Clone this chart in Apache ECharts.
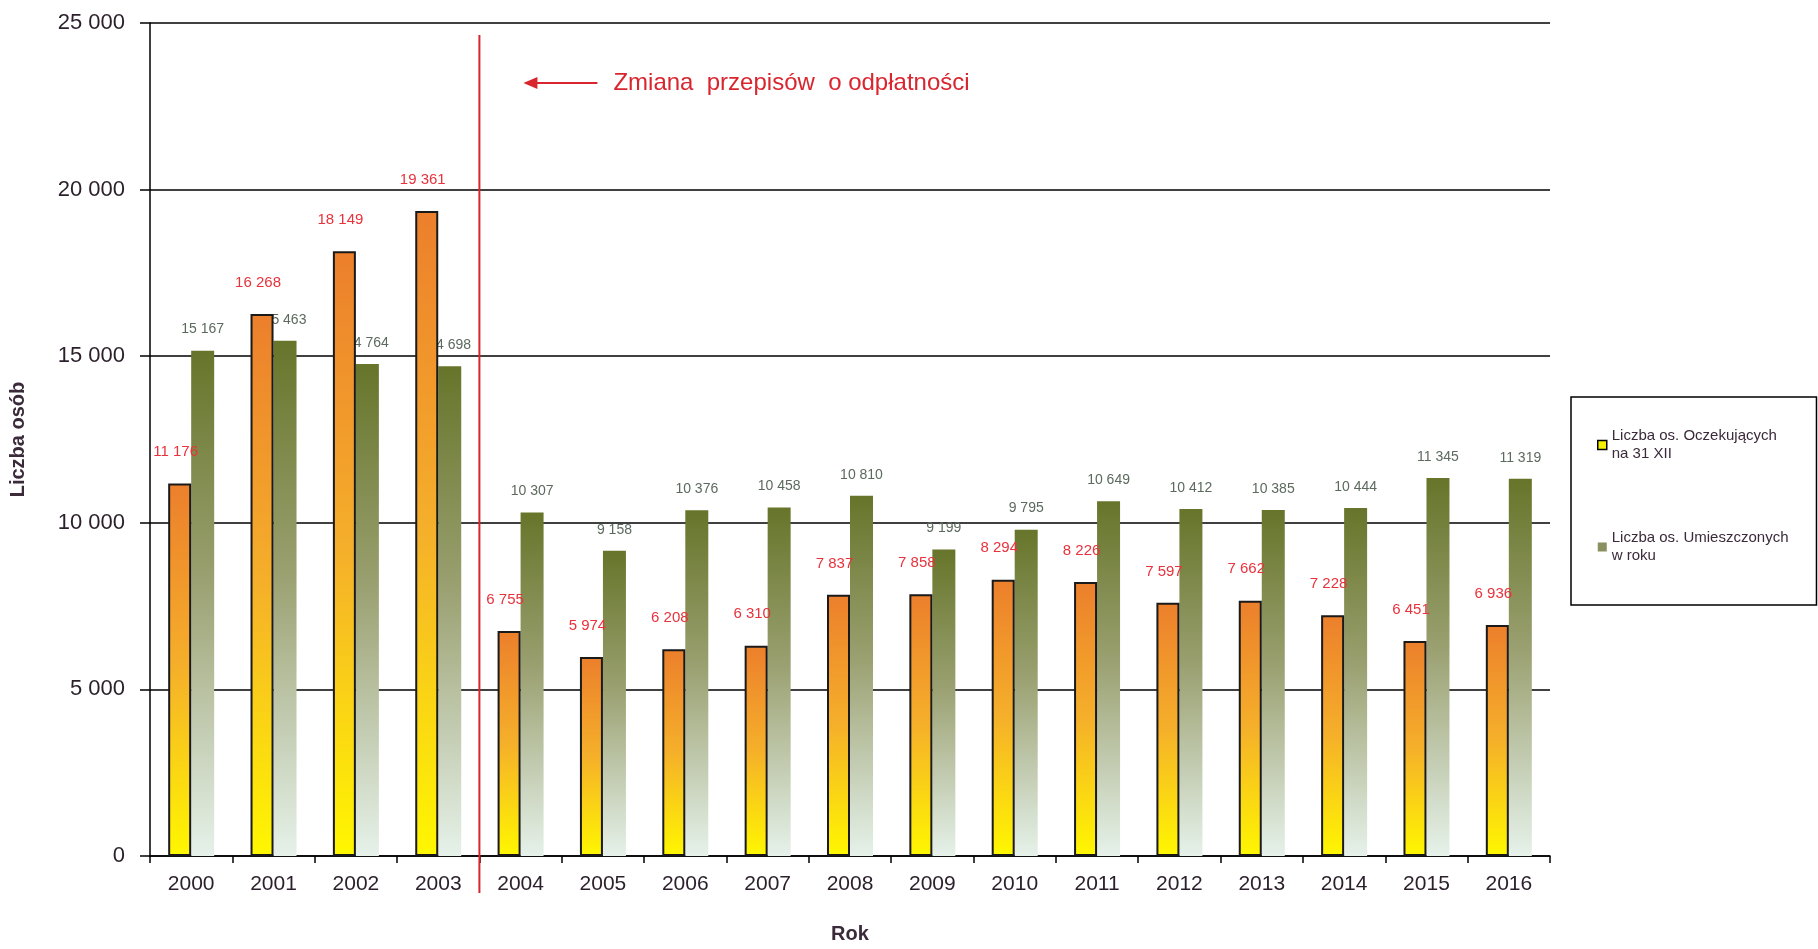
<!DOCTYPE html>
<html>
<head>
<meta charset="utf-8">
<script src="https://cdn.jsdelivr.net/npm/echarts@6/dist/echarts.min.js"></script>
<style>
    html, body { margin: 0; padding: 0; background: #fff; }
    #main { width: 1818px; height: 949px; }
</style>
</head>
<body>
<div id="main"></div>
<script>
    var years = ['2000', '2001', '2002', '2003', '2004', '2005', '2006', '2007', '2008',
        '2009', '2010', '2011', '2012', '2013', '2014', '2015', '2016'];
    var oczekujacy = [11176, 16268, 18149, 19361, 6755, 5974, 6208, 6310, 7837,
        7858, 8294, 8226, 7597, 7662, 7228, 6451, 6936];
    var umieszczeni = [15167, 15463, 14764, 14698, 10307, 9158, 10376, 10458, 10810,
        9199, 9795, 10649, 10412, 10385, 10444, 11345, 11319];
    var seriesNames = ['Liczba os. Oczekujących\nna 31 XII', 'Liczba os. Umieszczonych\nw roku'];
    var yTicks = [0, 5000, 10000, 15000, 20000, 25000];

    var font = '"Liberation Sans Narrow", "Liberation Sans", Arial, sans-serif';

    function fmt(v) {
        return String(v).replace(/\B(?=(\d{3})+(?!\d))/g, ' ');
    }

    var chart = echarts.init(document.getElementById('main'));

    var option = {
        backgroundColor: '#fff',
        animation: false,
        textStyle: { fontFamily: font },
        grid: { left: 147, right: 268, top: 23, bottom: 93 },
        legend: {
            orient: 'vertical',
            left: 1571,
            top: 397,
            width: 245,
            height: 198,
            padding: [30, 28, 40, 26],
            itemGap: 66,
            itemWidth: 9,
            itemHeight: 9,
            borderColor: '#000',
            borderWidth: 1.5,
            textStyle: { fontSize: 15, color: '#3a2a3a', fontFamily: font, lineHeight: 18 },
            data: [
                { name: seriesNames[0], icon: 'rect', itemStyle: { color: '#f5f000', borderColor: '#000', borderWidth: 1.5 } },
                { name: seriesNames[1], icon: 'rect', itemStyle: { color: '#8a9060' } }
            ]
        },
        xAxis: {
            type: 'category',
            data: years,
            name: 'Rok',
            nameLocation: 'middle',
            nameGap: 68,
            nameTextStyle: { fontSize: 20, fontWeight: 'bold', color: '#3a2a3a', fontFamily: font },
            axisLine: { lineStyle: { color: '#000', width: 1.5 } },
            axisTick: { show: true, length: 7, lineStyle: { color: '#000', width: 1.5 } },
            axisLabel: { fontSize: 21, color: '#2a1f2a', margin: 18, fontFamily: font }
        },
        yAxis: {
            type: 'value',
            min: 0,
            max: yTicks[yTicks.length - 1],
            interval: yTicks[1] - yTicks[0],
            name: 'Liczba osób',
            nameLocation: 'middle',
            nameGap: 122,
            nameTextStyle: { fontSize: 20, fontWeight: 'bold', color: '#3a2a3a', fontFamily: font },
            axisLine: { show: true, lineStyle: { color: '#000', width: 1.5 } },
            axisTick: { show: true, length: 10, lineStyle: { color: '#000', width: 1.5 } },
            axisLabel: { fontSize: 22, color: '#2a1f2a', margin: 25, formatter: fmt, fontFamily: font },
            splitLine: { lineStyle: { color: '#000', width: 1.5 } }
        },
        series: [
            {
                name: seriesNames[0],
                type: 'bar',
                data: oczekujacy,
                barWidth: 23,
                barGap: '0%',
                z: 3,
                itemStyle: {
                    borderColor: '#1a1a1a',
                    borderWidth: 2,
                    color: new echarts.graphic.LinearGradient(0, 0, 0, 1, [
                        { offset: 0, color: '#ec7f2c' },
                        { offset: 0.5, color: '#f5b02a' },
                        { offset: 1, color: '#fff700' }
                    ])
                },
                label: {
                    show: true,
                    position: 'top',
                    distance: 24,
                    offset: [-4, 0],
                    formatter: function (p) { return fmt(p.value); },
                    fontSize: 15,
                    color: '#e8323c',
                    fontFamily: font
                }
            },
            {
                name: seriesNames[1],
                type: 'bar',
                data: umieszczeni,
                barWidth: 23,
                z: 2,
                itemStyle: {
                    color: new echarts.graphic.LinearGradient(0, 0, 0, 1, [
                        { offset: 0, color: '#66752a' },
                        { offset: 0.45, color: '#9aa070' },
                        { offset: 1, color: '#e6f2ea' }
                    ])
                },
                label: {
                    show: true,
                    position: 'top',
                    distance: 14,
                    formatter: function (p) { return fmt(p.value); },
                    fontSize: 14,
                    color: '#5c6a5e',
                    fontFamily: font
                }
            }
        ]
    };

    chart.setOption(option);

    // annotation: red line between 2003 and 2004 with arrow and note
    var x3 = chart.convertToPixel({ xAxisIndex: 0 }, years[3]);
    var x4 = chart.convertToPixel({ xAxisIndex: 0 }, years[4]);
    var lx = (x3 + x4) / 2;
    var yTop = 35;
    var yBot = 893;
    var yNote = chart.convertToPixel({ yAxisIndex: 0 }, 23200);

    chart.setOption({
        graphic: [
            {
                type: 'line', z: 10,
                shape: { x1: lx, y1: yTop, x2: lx, y2: yBot },
                style: { stroke: '#d9252e', lineWidth: 2 }
            },
            {
                type: 'line', z: 10,
                shape: { x1: lx + 48, y1: yNote, x2: lx + 118, y2: yNote },
                style: { stroke: '#d9252e', lineWidth: 2 }
            },
            {
                type: 'polygon', z: 10,
                shape: { points: [[lx + 44, yNote], [lx + 58, yNote - 6], [lx + 58, yNote + 6]] },
                style: { fill: '#d9252e' }
            },
            {
                type: 'text', z: 10,
                x: lx + 134, y: yNote,
                style: {
                    text: 'Zmiana  przepisów  o odpłatności',
                    fill: '#d9252e',
                    font: '24px ' + font,
                    verticalAlign: 'middle'
                }
            }
        ]
    });
</script>
</body>
</html>
